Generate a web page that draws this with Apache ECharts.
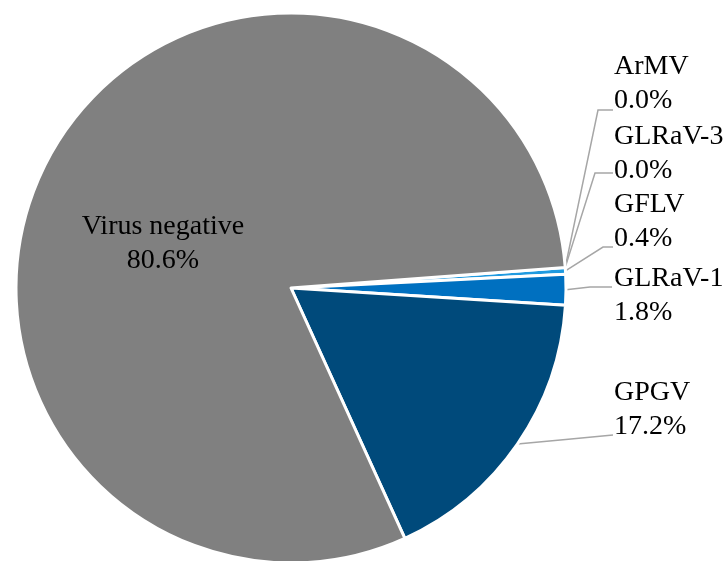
<!DOCTYPE html>
<html>
<head>
<meta charset="utf-8">
<script src="https://cdn.jsdelivr.net/npm/echarts@6/dist/echarts.min.js"></script>
<style>html,body{margin:0;padding:0;background:#fff}#c{width:726px;height:561px}</style>
</head>
<body>
<div id="c"></div>
<script>
// Data
const categories = ['ArMV', 'GLRaV-3', 'GFLV', 'GLRaV-1', 'GPGV', 'Virus negative'];
const values = [0.0, 0.0, 0.4, 1.8, 17.2, 80.6];
const colors = ['#7fb7e0', '#5aa7dc', '#1f9ae0', '#0070c0', '#004a7b', '#808080'];

// Label layout (text anchor x, block center y, leader elbow x, leader y)
const labelX = [614, 614, 614, 614, 614, 163];
const labelY = [84, 154, 222, 296, 410, 244];
const elbowX = [598, 595, 603, 590, 570, null];
const lineY  = [110, 173, 247, 287, 435, null];

const chart = echarts.init(document.getElementById('c'), null, {renderer: 'canvas'});
const font = '"Liberation Serif", "Times New Roman", serif';

chart.setOption({
  animation: false,
  series: [{
    type: 'pie',
    center: [291, 288],
    radius: 275,
    startAngle: 4.3,
    clockwise: true,
    avoidLabelOverlap: false,
    minShowLabelAngle: 0,
    itemStyle: { borderColor: '#ffffff', borderWidth: 3 },
    label: {
      show: true,
      position: 'outside',
      fontFamily: font,
      fontSize: 28,
      lineHeight: 34,
      color: '#000',
      align: 'left',
      formatter: p => p.name + '\n' + p.value.toFixed(1) + '%'
    },
    labelLine: {
      show: true,
      length: 20,
      length2: 20,
      lineStyle: { color: '#a6a6a6', width: 1.5 }
    },
    labelLayout: function (params) {
      const i = params.dataIndex;
      if (categories[i] === 'Virus negative') {
        return { x: labelX[i], y: labelY[i], align: 'center', verticalAlign: 'middle' };
      }
      const pts = params.labelLinePoints;
      const res = { x: labelX[i], y: labelY[i], align: 'left', verticalAlign: 'middle' };
      if (pts) {
        res.labelLinePoints = [pts[0], [elbowX[i], lineY[i]], [labelX[i] - 1, lineY[i]]];
        if (categories[i] === 'GPGV') {
          res.labelLinePoints = [pts[0], [(pts[0][0] + labelX[i]) / 2, (pts[0][1] + lineY[i]) / 2], [labelX[i] - 1, lineY[i]]];
        }
        if (categories[i] === 'GLRaV-1') {
          res.labelLinePoints = [pts[0], [elbowX[i], lineY[i]], [labelX[i] - 2, lineY[i]]];
        }
      }
      return res;
    },
    data: categories.map((name, i) => ({
      name: name,
      value: values[i],
      itemStyle: { color: colors[i] },
      labelLine: categories[i] === 'Virus negative' ? { show: false } : undefined
    }))
  }]
});
</script>
</body>
</html>
